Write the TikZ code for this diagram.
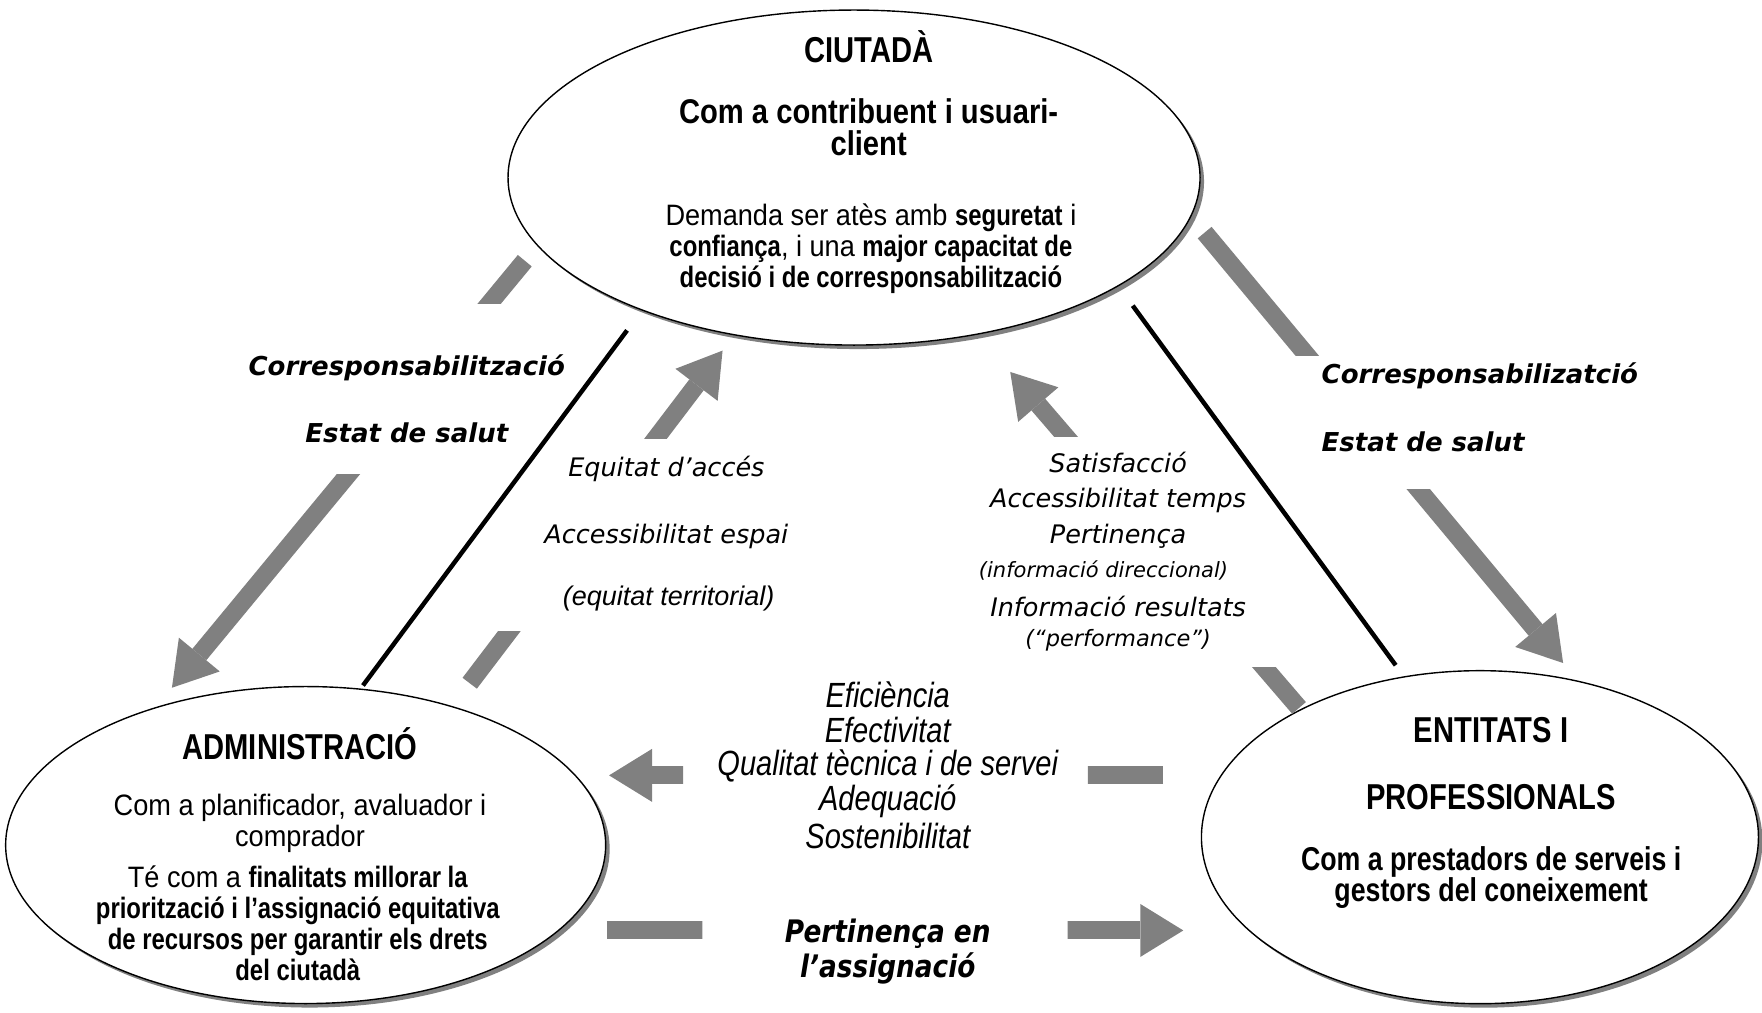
\documentclass[tikz,border=0pt]{standalone}
\usepackage{fontspec}
\setmainfont{Liberation Sans}
\newfontfamily\narrowsf{Liberation Sans}[FakeStretch=0.92]
\newfontfamily\nbf{Liberation Sans Bold}[FakeStretch=0.81]
\newfontfamily\nbfwide{Liberation Sans Bold}[FakeStretch=0.85]
\newfontfamily\narrowit{Liberation Sans}[FakeStretch=0.83]
\newfontfamily\verdsf{DejaVu Sans}[ItalicFont={DejaVu Sans Oblique},BoldFont={DejaVu Sans Bold},BoldItalicFont={DejaVu Sans Bold Oblique}]
\newfontfamily\verdnarrow{DejaVu Sans}[FakeStretch=0.85,ItalicFont={DejaVu Sans Oblique},BoldFont={DejaVu Sans Bold},BoldItalicFont={DejaVu Sans Bold Oblique}]
\usetikzlibrary{shapes.geometric,arrows.meta,shadows}
\definecolor{arrowgray}{HTML}{808080}
\definecolor{shadowgray}{HTML}{808080}

\tikzset{
  actor/.style={ellipse, draw=black, line width=1.4pt, fill=white, inner sep=0pt,
    drop shadow={shadow xshift=4pt, shadow yshift=-4pt, fill=shadowgray, opacity=1}},
  headtxt/.style={font=\nbf\fontsize{36}{38}\selectfont, inner sep=0pt},
  subtxt/.style={font=\nbfwide\fontsize{34.3}{32.5}\selectfont, inner sep=0pt},
  subtxtb/.style={font=\nbf\fontsize{33}{30.5}\selectfont, align=center, inner sep=0pt},
  bodytxt/.style={font=\narrowsf\fontsize{29.5}{31}\selectfont, align=center, inner sep=0pt},
  flowlbl/.style={font=\verdsf\bfseries\itshape\fontsize{26}{30}\selectfont, inner sep=0pt},
  indlbl/.style={font=\verdsf\itshape\fontsize{25.5}{30}\selectfont, inner sep=0pt},
  parenlbl/.style={font=\verdsf\itshape\fontsize{21}{25}\selectfont, inner sep=0pt},
  arialit/.style={font=\itshape\fontsize{27}{30}\selectfont, inner sep=0pt},
  narrowlbl/.style={font=\narrowit\itshape\fontsize{35}{36}\selectfont, inner sep=0pt},
  assignlbl/.style={font=\verdnarrow\bfseries\itshape\fontsize{31}{35}\selectfont, inner sep=0pt},
  linkline/.style={line width=4.5pt, draw=black},
  flowarrow/.style={draw=arrowgray, line width=18pt,
    -{Triangle[width=53pt,length=43pt,line width=0pt]}},
}

\begin{document}
\begin{tikzpicture}[x=1.1237pt, y=-1.1237pt]
\useasboundingbox (0,0) rectangle (1568,901);
\fill[white] (0,0) rectangle (1568,901);

% the three actors
\node[actor, minimum width=692pt, minimum height=335pt] (ciutada) at (760,158) {};
\node[actor, minimum width=600pt, minimum height=317pt] (admin) at (272,752) {};
\node[actor, minimum width=557pt, minimum height=333pt] (entitats) at (1317,745) {};

% texts of the actors
\node[headtxt] (ciutadaT) at (773,42) {CIUTADÀ};
\node[subtxt, anchor=base] (ciutadaS1) at (773,110) {Com a contribuent i usuari-};
\node[subtxt, anchor=base] (ciutadaS2) at (773,138) {client};
\node[bodytxt] (ciutadaB) at (775,221) {Demanda ser atès amb {\nbf seguretat} i\\{\nbf confiança}, i una {\nbf major capacitat de}\\{\nbf decisió i de corresponsabilització}};

\node[headtxt] (adminT) at (267,662) {ADMINISTRACIÓ};
\node[bodytxt] (adminR) at (267,733) {Com a planificador, avaluador i\\comprador};
\node[bodytxt] (adminB) at (265,822) {Té com a {\nbf finalitats millorar la}\\{\nbf priorització i l’assignació equitativa}\\{\nbf de recursos per garantir els drets}\\{\nbf del ciutadà}};

\node[headtxt] (entitatsT) at (1327,650) {ENTITATS I};
\node[headtxt] (entitatsP) at (1327,709) {PROFESSIONALS};
\node[subtxtb] (entitatsB) at (1327,781) {Com a prestadors de serveis i\\gestors del coneixement};

% separating lines
\coordinate (l1a) at (558,294);
\coordinate (l1b) at (323,610);
\coordinate (l2a) at (1008,272);
\coordinate (l2b) at (1242,592);
\draw[linkline] (l1a) -- (l1b);
\draw[linkline] (l2a) -- (l2b);

% end points of the flows
\coordinate (a1s) at (467,232);  \coordinate (a1e) at (153,612);
\coordinate (a2s) at (1072,207); \coordinate (a2e) at (1391,590);
\coordinate (a3s) at (418,608);  \coordinate (a3e) at (643,312);
\coordinate (a4s) at (1156,630); \coordinate (a4e) at (899,331);
\coordinate (a5s) at (1035,690); \coordinate (a5e) at (542,690);
\coordinate (a6s) at (540,828);  \coordinate (a6e) at (1053,828);

% citizen -> administration (interrupted by its labels)
\begin{scope}\clip (0,0) rectangle (1568,270); \draw[flowarrow] (a1s) -- (a1e); \end{scope}
\begin{scope}\clip (0,422) rectangle (1568,901); \draw[flowarrow] (a1s) -- (a1e); \end{scope}
% citizen -> providers
\begin{scope}\clip (0,0) rectangle (1568,316); \draw[flowarrow] (a2s) -- (a2e); \end{scope}
\begin{scope}\clip (0,436) rectangle (1568,901); \draw[flowarrow] (a2s) -- (a2e); \end{scope}
% administration -> citizen
\begin{scope}\clip (0,0) rectangle (1568,390); \draw[flowarrow] (a3s) -- (a3e); \end{scope}
\begin{scope}\clip (0,562) rectangle (1568,901); \draw[flowarrow] (a3s) -- (a3e); \end{scope}
% providers -> citizen
\begin{scope}\clip (0,0) rectangle (1568,388); \draw[flowarrow] (a4s) -- (a4e); \end{scope}
\begin{scope}\clip (0,594) rectangle (1568,901); \draw[flowarrow] (a4s) -- (a4e); \end{scope}
% providers -> administration
\begin{scope}\clip (0,0) rectangle (608,901); \draw[flowarrow] (a5s) -- (a5e); \end{scope}
\begin{scope}\clip (968,0) rectangle (1568,901); \draw[flowarrow] (a5s) -- (a5e); \end{scope}
% administration -> providers
\begin{scope}\clip (0,0) rectangle (625,901); \draw[flowarrow] (a6s) -- (a6e); \end{scope}
\begin{scope}\clip (950,0) rectangle (1568,901); \draw[flowarrow] (a6s) -- (a6e); \end{scope}

% labels of the flows
\node[flowlbl] (corrL) at (362,327) {Corresponsabilització};
\node[flowlbl] (salutL) at (362,385) {Estat de salut};
\node[flowlbl, anchor=west] (corrR) at (1176,334) {Corresponsabilizatció};
\node[flowlbl, anchor=west] (salutR) at (1176,393) {Estat de salut};

\node[indlbl] (equitat) at (593,417) {Equitat d’accés};
\node[indlbl] (espai) at (593,477) {Accessibilitat espai};
\node[arialit] (territ) at (595,533) {(equitat territorial)};

\node[indlbl] (satisf) at (995,412) {Satisfacció};
\node[indlbl] (temps) at (995,445) {Accessibilitat temps};
\node[indlbl] (pertin) at (995,477) {Pertinença};
\node[parenlbl] (direcc) at (982,508) {(informació direccional)};
\node[indlbl] (result) at (995,540) {Informació resultats};
\node[parenlbl, font=\verdsf\itshape\fontsize{22.5}{25}\selectfont] (perf) at (995,570) {(“performance”)};

\node[narrowlbl] (efic) at (790,618) {Eficiència};
\node[narrowlbl] (efect) at (790,650) {Efectivitat};
\node[narrowlbl] (qualit) at (790,682) {Qualitat tècnica i de servei};
\node[narrowlbl] (adeq) at (790,713) {Adequació};
\node[narrowlbl] (sosten) at (790,744) {Sostenibilitat};

\node[assignlbl] (pertEn) at (790,831) {Pertinença en};
\node[assignlbl] (assign) at (790,862) {l’assignació};
\end{tikzpicture}
\end{document}
